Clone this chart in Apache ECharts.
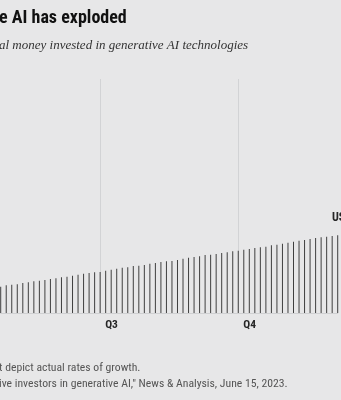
<!DOCTYPE html>
<html>
<head>
<meta charset="utf-8">
<style>
  html, body { margin: 0; padding: 0; background: #e7e7e8; }
  #chart { width: 341px; height: 400px; }
</style>
<script src="https://cdn.jsdelivr.net/npm/echarts@6/dist/echarts.min.js"></script>
</head>
<body>
<div id="chart"></div>
<script>
// Invested amount per period (relative bar heights), oldest first
const periodValues = [
  26.3, 27.7, 28.3, 28.7, 30.0, 30.7, 31.7, 32.3, 33.0, 34.0,
  34.7, 35.7, 36.3, 37.3, 38.3, 39.3, 40.0, 40.7, 41.0, 42.3,
  43.3, 44.3, 45.3, 45.7, 47.0, 47.3, 48.0, 49.3, 50.0, 51.0,
  51.7, 52.0, 53.0, 54.3, 55.3, 56.0, 56.7, 58.0, 58.3, 59.0,
  60.0, 60.7, 61.7, 62.3, 63.3, 64.0, 65.0, 65.7, 66.3, 67.7,
  68.3, 69.3, 70.3, 71.3, 72.3, 73.0, 74.0, 75.0, 75.7, 76.3,
  77.0, 77.7
];
const periods = periodValues.map((_, i) => String(i));
// Periods where a new quarter starts, and their labels
const quarterStarts = [18, 43];
const quarterLabels = ['Q3', 'Q4'];

const titleText = 'e AI has exploded';
const subtitleText = 'al money invested in generative AI technologies';
const noteLines = [
  't depict actual rates of growth.',
  'ive investors in generative AI," News & Analysis, June 15, 2023.'
];
const endLabel = 'US';

const chart = echarts.init(document.getElementById('chart'), null, { renderer: 'canvas' });

const sansNarrow = '"Liberation Sans Narrow", "Roboto Condensed", "DejaVu Sans Condensed", sans-serif';
const isQuarterStart = (idx) => quarterStarts.indexOf(idx) >= 0;

chart.setOption({
  backgroundColor: '#e7e7e8',
  animation: false,
  grid: { left: 0.7, right: 3.3, top: 79, bottom: 87, containLabel: false },
  xAxis: {
    type: 'category',
    data: periods,
    boundaryGap: false,
    axisLine: { show: true, lineStyle: { color: '#cfd0d2', width: 1 } },
    axisTick: { show: false },
    splitLine: {
      show: true,
      interval: (idx) => isQuarterStart(idx),
      lineStyle: { color: '#d2d3d5', width: 1 }
    },
    axisLabel: {
      show: true,
      interval: (idx) => isQuarterStart(idx),
      align: 'left',
      margin: 6,
      padding: [0, 0, 0, 5],
      fontFamily: sansNarrow,
      fontWeight: 'bold',
      fontSize: 11.5,
      color: '#262626',
      formatter: (v) => {
        const k = quarterStarts.indexOf(Number(v));
        return k >= 0 ? quarterLabels[k] : '';
      }
    }
  },
  yAxis: {
    type: 'value',
    min: 0,
    max: 234,
    show: false,
    splitLine: { show: false }
  },
  series: [{
    type: 'bar',
    data: periodValues,
    barWidth: 1,
    itemStyle: { color: '#3f3f3f' },
    silent: true
  }],
  graphic: [
    {
      type: 'text', left: -1, top: 9,
      style: { text: titleText, font: 'bold 18px ' + sansNarrow, fill: '#111' }
    },
    {
      type: 'text', left: -1, top: 39,
      style: { text: subtitleText, font: 'italic 13px "Liberation Serif", serif', fill: '#333' }
    },
    {
      type: 'text', left: 332, top: 212,
      style: { text: endLabel, font: 'bold 12px ' + sansNarrow, fill: '#262626' }
    },
    {
      type: 'text', left: -1, top: 362,
      style: { text: noteLines[0], font: '11.7px ' + sansNarrow, fill: '#555' }
    },
    {
      type: 'text', left: -1, top: 378,
      style: { text: noteLines[1], font: '11.7px ' + sansNarrow, fill: '#555' }
    }
  ]
});
</script>
</body>
</html>
